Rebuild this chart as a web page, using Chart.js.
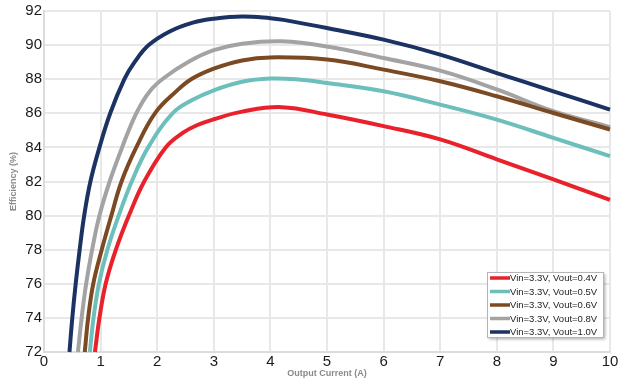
<!DOCTYPE html>
<html>
<head>
<meta charset="utf-8">
<script src="https://cdn.jsdelivr.net/npm/chart.js@4"></script>
<style>
  html, body { margin: 0; padding: 0; background: #fff; }
  #wrap { width: 632px; height: 379px; }
</style>
</head>
<body>
<div id="wrap"><canvas id="chart1"></canvas></div>
<script>
// efficiency curves
var seriesLabels = ['Vin=3.3V, Vout=0.4V', 'Vin=3.3V, Vout=0.5V', 'Vin=3.3V, Vout=0.6V', 'Vin=3.3V, Vout=0.8V', 'Vin=3.3V, Vout=1.0V'];

var cur04 = [0.9, 0.98, 1.09, 1.27, 1.5, 1.77, 2.15, 2.45, 2.7, 3.0, 3.5, 4.2, 5, 6, 7, 8, 9, 10];
var eff04 = [72, 74, 76, 78, 80, 82, 84, 84.85, 85.3, 85.65, 86.1, 86.36, 85.93, 85.25, 84.47, 83.3, 82.13, 80.92];

var cur05 = [0.81, 0.875, 0.97, 1.12, 1.32, 1.55, 1.84, 2.27, 2.6, 3.0, 3.5, 4.0, 4.5, 5, 6, 7, 8, 9, 10];
var eff05 = [72, 74, 76, 78, 80, 82, 84, 86, 86.75, 87.35, 87.85, 88.04, 87.98, 87.78, 87.29, 86.51, 85.63, 84.56, 83.49];

var cur06 = [0.72, 0.78, 0.87, 1.02, 1.19, 1.37, 1.63, 1.96, 2.34, 2.6, 3.0, 3.5, 4.0, 5, 6, 7, 8, 9, 10];
var eff06 = [72, 74, 76, 78, 80, 82, 84, 86, 87.3, 88, 88.62, 89.1, 89.28, 89.15, 88.56, 87.88, 87.0, 86.02, 85.05];

var cur08 = [0.6, 0.665, 0.745, 0.85, 0.98, 1.16, 1.38, 1.63, 1.87, 2.13, 2.57, 3.0, 3.5, 4.2, 5, 6, 7, 8, 9, 10];
var eff08 = [72, 74, 76, 78, 80, 82, 84, 86, 87.3, 88.1, 89.05, 89.7, 90.08, 90.22, 89.92, 89.24, 88.5, 87.4, 86.12, 85.19];

var cur10 = [0.45, 0.5, 0.56, 0.63, 0.71, 0.82, 0.98, 1.17, 1.42, 1.6, 1.85, 2.22, 2.63, 3.0, 3.5, 4.0, 4.23, 5, 6, 7, 8, 9, 10];
var eff10 = [72, 74, 76, 78, 80, 82, 84, 86, 88, 89, 90, 90.8, 91.32, 91.55, 91.68, 91.58, 91.48, 91.0, 90.32, 89.44, 88.36, 87.29, 86.22];

var xTicks = [0, 1, 2, 3, 4, 5, 6, 7, 8, 9, 10];
var yTicks = [72, 74, 76, 78, 80, 82, 84, 86, 88, 90, 92];

var colors = ['#e8212b', '#6cbfbb', '#7b4a22', '#a3a3a3', '#1c3263'];

function pts(xs, ys) {
    return xs.map(function (x, i) { return { x: x, y: ys[i] }; });
}

var curves = [pts(cur04, eff04), pts(cur05, eff05), pts(cur06, eff06), pts(cur08, eff08), pts(cur10, eff10)];

// legend box drawn inside the plot, bottom right
var boxLegend = {
    id: 'boxLegend',
    afterDatasetsDraw: function (chart) {
        var c = chart.ctx;
        var x0 = 487, y0 = 272, w = 116, h = 65;
        c.save();
        c.shadowColor = 'rgba(0,0,0,0.35)';
        c.shadowBlur = 3;
        c.shadowOffsetX = 2;
        c.shadowOffsetY = 2;
        c.fillStyle = '#fff';
        c.fillRect(x0, y0, w, h);
        c.restore();
        c.save();
        c.strokeStyle = '#b5b5b5';
        c.lineWidth = 1;
        c.strokeRect(x0 + 0.5, y0 + 0.5, w, h);
        c.font = '9.5px "Liberation Sans", Arial, sans-serif';
        c.textBaseline = 'middle';
        chart.data.datasets.forEach(function (ds, i) {
            var yy = y0 + 6 + i * 13.5;
            c.strokeStyle = ds.borderColor;
            c.lineWidth = 3.5;
            c.beginPath();
            c.moveTo(x0 + 3, yy);
            c.lineTo(x0 + 23, yy);
            c.stroke();
            c.fillStyle = '#222';
            c.fillText(ds.label, x0 + 23, yy + 0.5);
        });
        c.restore();
    }
};

var ctx = document.getElementById('chart1').getContext('2d');

var myChart = new Chart(ctx, {
    type: 'scatter',
    data: {
        datasets: curves.map(function (d, i) {
            return {
                label: seriesLabels[i],
                data: d,
                showLine: true,
                borderColor: colors[i],
                backgroundColor: colors[i],
                borderWidth: 4,
                pointRadius: 0,
                tension: 0.4,
                clip: 3
            };
        })
    },
    options: {
        responsive: true,
        maintainAspectRatio: false,
        animation: false,
        layout: { padding: { top: 9, right: 22, left: 0, bottom: 0 } },
        plugins: {
            legend: { display: false },
            tooltip: { enabled: false }
        },
        scales: {
            x: {
                type: 'linear',
                min: 0,
                max: 10,
                afterBuildTicks: function (s) { s.ticks = xTicks.map(function (v) { return { value: v }; }); },
                afterFit: function (s) { s.height = 27; },
                grid: { color: '#e8e8e8', lineWidth: 2, drawTicks: false },
                border: { color: '#dcdcdc', width: 2 },
                ticks: {
                    padding: 1,
                    color: '#1a1a1a',
                    font: { family: '"Liberation Sans", Arial, sans-serif', size: 15 }
                },
                title: {
                    display: true,
                    text: 'Output Current (A)',
                    color: '#8a8a8a',
                    padding: { top: -3, bottom: 0 },
                    font: { family: '"Liberation Sans", Arial, sans-serif', size: 9, weight: 'bold' }
                }
            },
            y: {
                min: 72,
                max: 92,
                afterBuildTicks: function (s) { s.ticks = yTicks.map(function (v) { return { value: v }; }); },
                afterFit: function (s) { s.width = 44; },
                grid: { color: '#e8e8e8', lineWidth: 2, drawTicks: false },
                border: { color: '#dcdcdc', width: 2 },
                ticks: {
                    padding: 2,
                    color: '#1a1a1a',
                    font: { family: '"Liberation Sans", Arial, sans-serif', size: 15 }
                },
                title: {
                    display: true,
                    text: 'Efficiency (%)',
                    color: '#8a8a8a',
                    padding: { top: 8, bottom: 0 },
                    font: { family: '"Liberation Sans", Arial, sans-serif', size: 9, weight: 'bold' }
                }
            }
        }
    },
    plugins: [boxLegend]
});
</script>
</body>
</html>
